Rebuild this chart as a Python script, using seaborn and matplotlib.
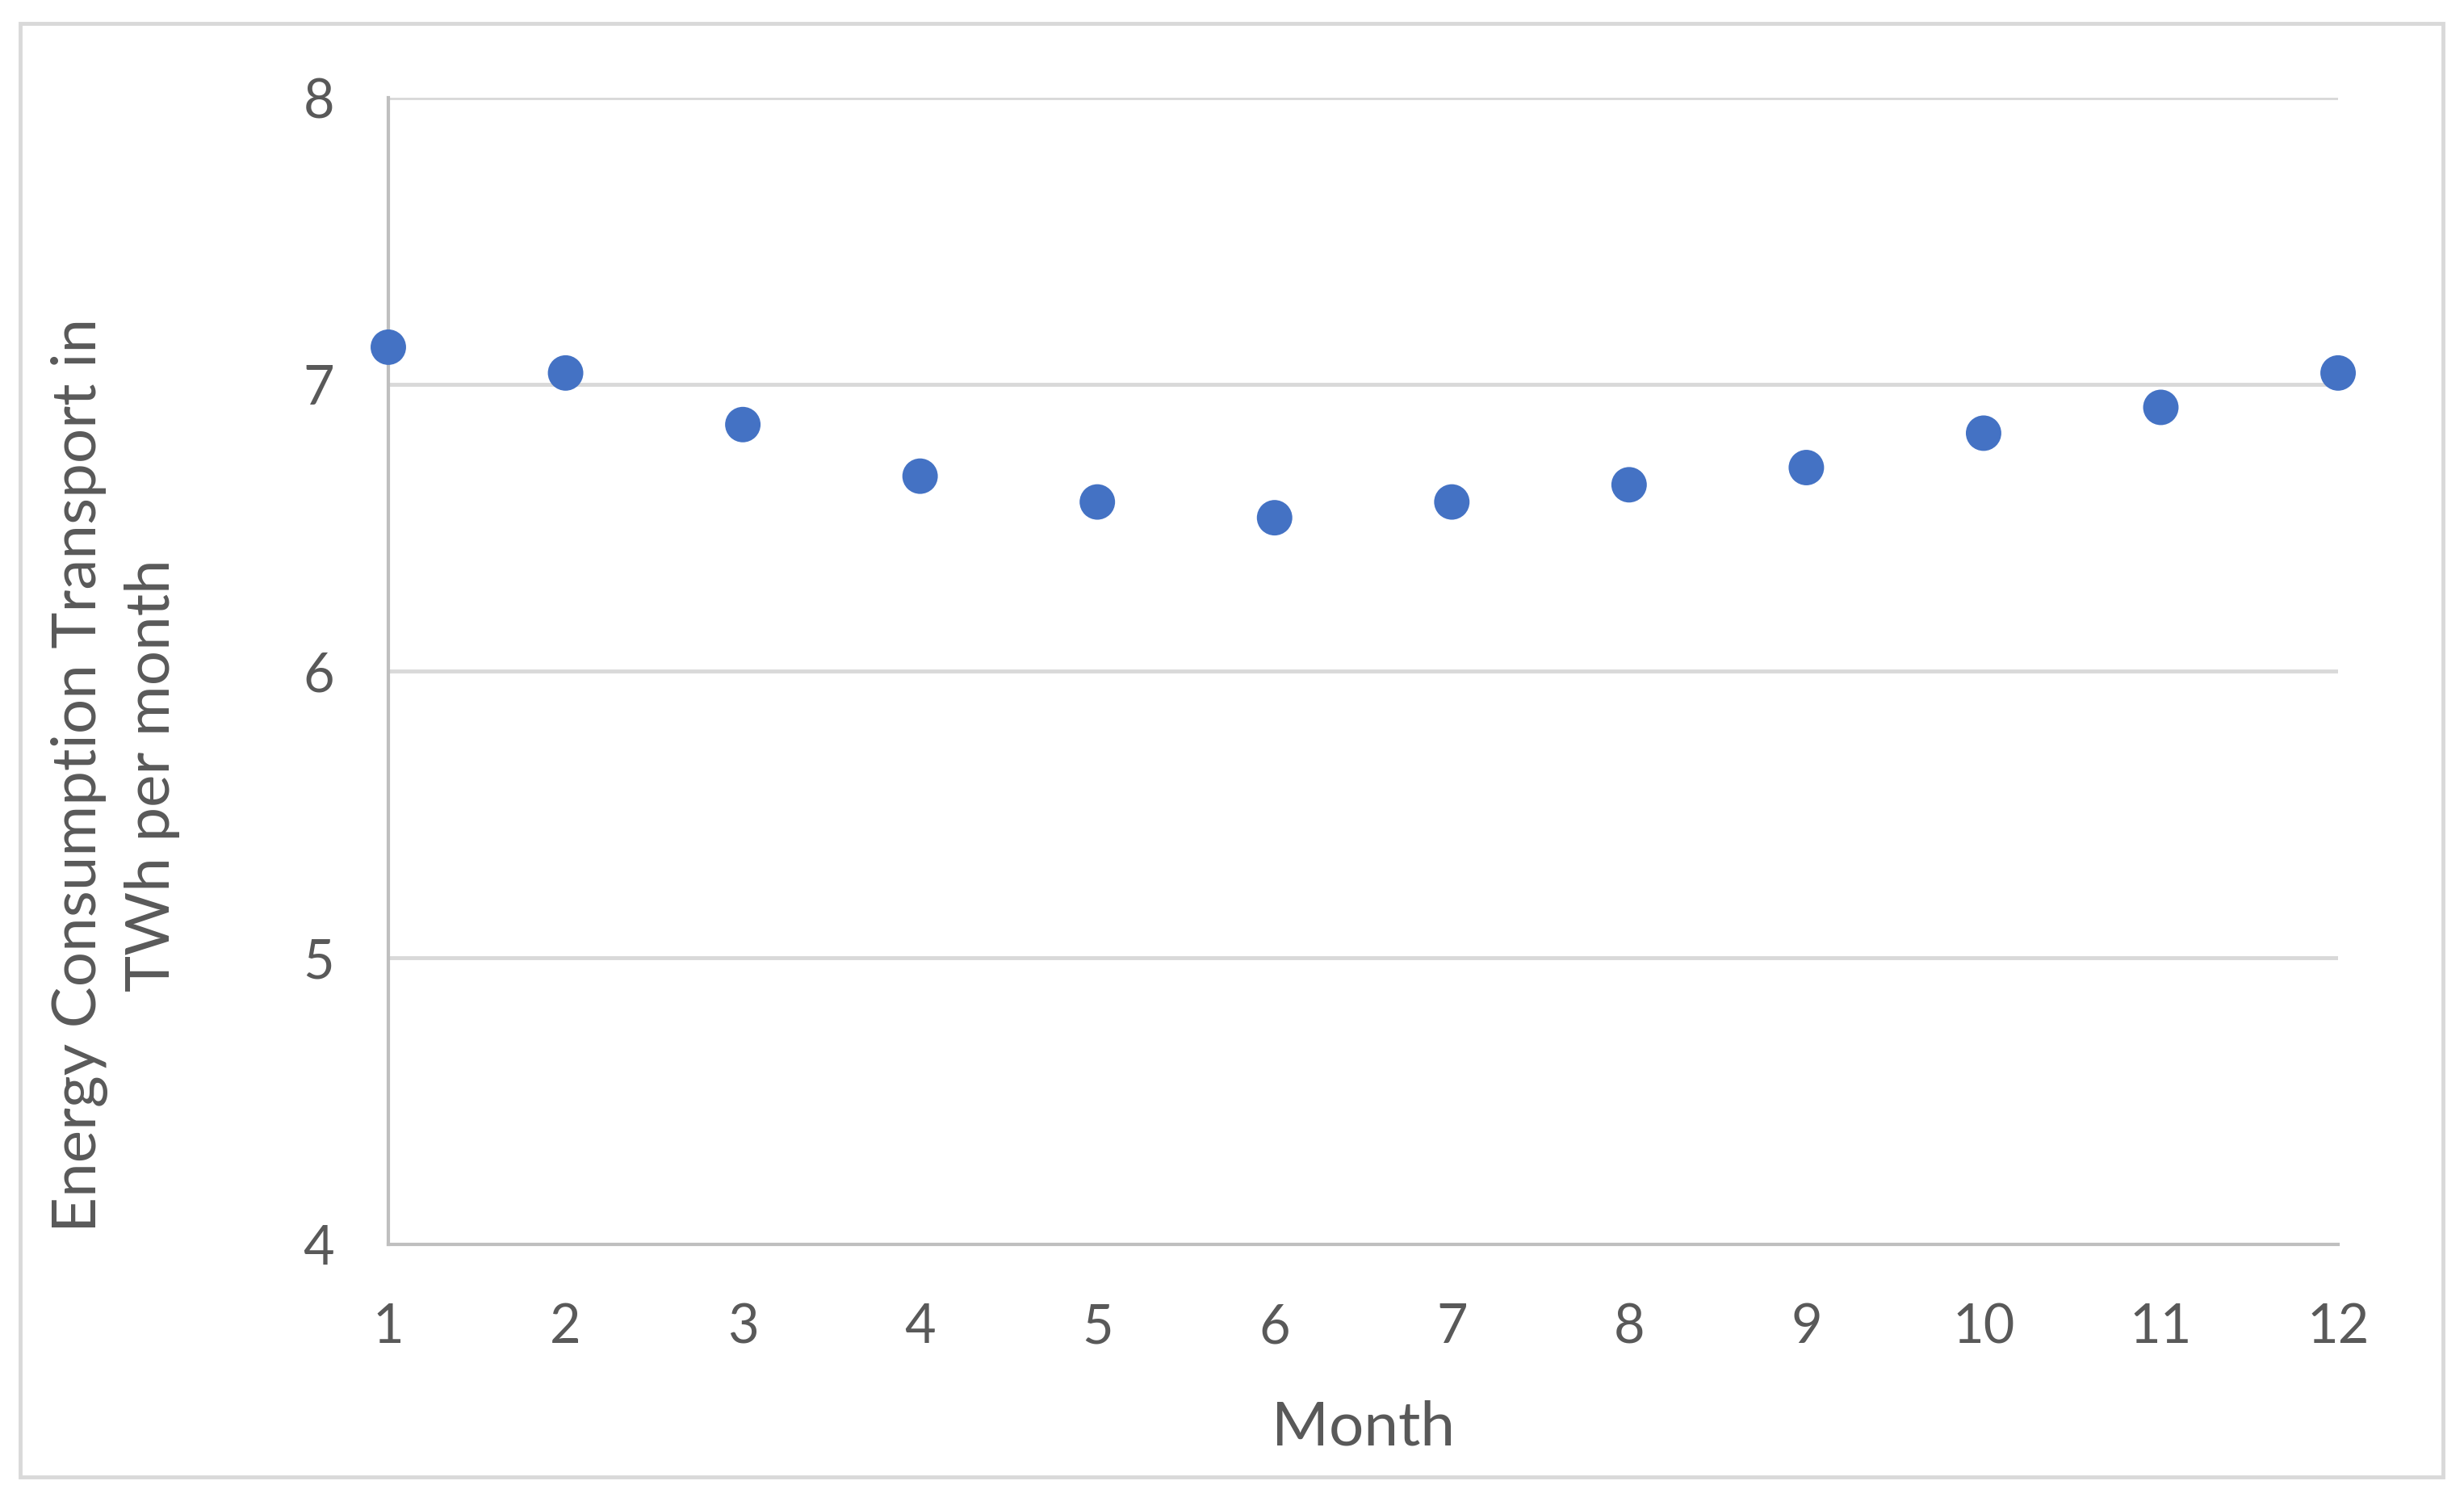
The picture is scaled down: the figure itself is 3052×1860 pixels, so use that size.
import matplotlib
matplotlib.use("Agg")
import matplotlib.pyplot as plt
import pandas as pd
import seaborn as sns
from matplotlib.patches import Rectangle

# Monthly values
months = [1, 2, 3, 4, 5, 6, 7, 8, 9, 10, 11, 12]
energy_twh = [7.13, 7.04, 6.86, 6.68, 6.59, 6.535, 6.59, 6.65, 6.71, 6.83, 6.92, 7.04]
y_ticks = [4, 5, 6, 7, 8]

df = pd.DataFrame({"Month": months, "Energy": energy_twh})

sns.set_theme(style="white")
plt.rcParams["font.family"] = ["Lato", "DejaVu Sans"]

text_grey = "#595959"
grid_grey = "#d9d9d9"
axis_grey = "#bfbfbf"

fig = plt.figure(figsize=(30.52, 18.6), dpi=100)
ax = fig.add_axes([0.1576, 0.1715, 0.7913, 0.7634])

sns.scatterplot(data=df, x="Month", y="Energy", ax=ax, s=1000, color="#4472C4",
                edgecolor="none", clip_on=False, zorder=5)

ax.set_xlim(1, 12)
ax.set_ylim(4, 8)
ax.set_xticks(months)
ax.set_yticks(y_ticks)

# gridlines like the Excel chart
for yv in y_ticks[1:]:
    ax.axhline(yv, color=grid_grey, linewidth=3.5, zorder=1)

for side in ["top", "right"]:
    ax.spines[side].set_visible(False)
for side in ["left", "bottom"]:
    ax.spines[side].set_color(axis_grey)
    ax.spines[side].set_linewidth(3)

ax.tick_params(axis="both", length=0, labelsize=48, labelcolor=text_grey)
ax.tick_params(axis="y", pad=48)
ax.tick_params(axis="x", pad=52)

ax.set_xlabel("Month", fontsize=55, color=text_grey, labelpad=42)
ax.set_ylabel("Energy Consumption Transport in\nTWh per month", fontsize=55,
              color=text_grey, va="center", linespacing=1.35)
ax.yaxis.set_label_coords(-0.140, 0.409)

# outer chart border
fig.patches.append(Rectangle((25 / 3052, 1 - 1829 / 1860), 3001 / 3052, 1800 / 1860,
                             transform=fig.transFigure, fill=False,
                             edgecolor=grid_grey, linewidth=3.5))

fig.savefig("out.png", dpi=100, facecolor="white")
